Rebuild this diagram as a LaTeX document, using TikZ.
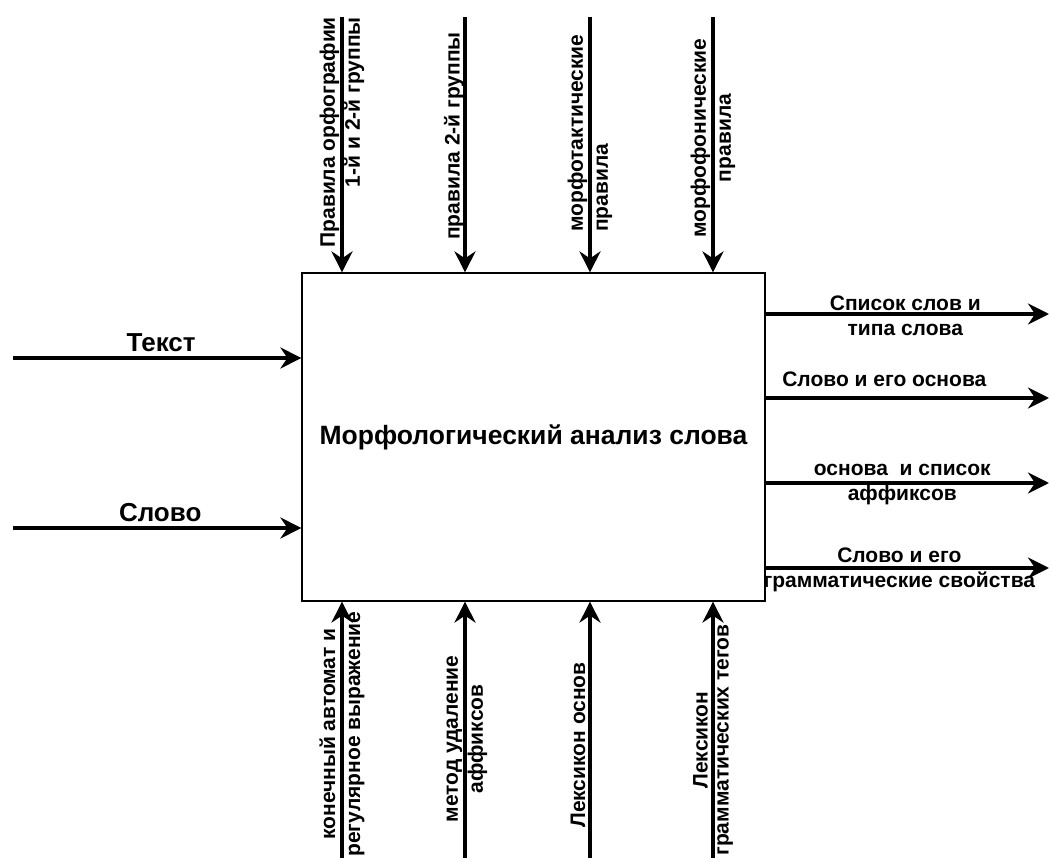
\documentclass[tikz,border=0pt]{standalone}
\usepackage{fontspec}
\setmainfont{Liberation Sans}
\usetikzlibrary{calc,positioning,arrows.meta}

\tikzset{
  flow/.style={line width=4pt, -{Stealth[length=21pt,width=21pt,inset=7pt]}},
  lbl/.style={font=\bfseries\fontsize{21}{25}\selectfont, inner sep=0pt, align=center},
  biglbl/.style={font=\bfseries\fontsize{26}{30}\selectfont, inner sep=0pt},
  vlbl/.style={lbl, rotate=90},
}

\begin{document}
\begin{tikzpicture}[x=1pt, y=-1pt]
  \useasboundingbox (0,0) rectangle (1050,858);
  % function box
  \node[draw, line width=1.2pt, fill=white, minimum width=463pt, minimum height=328pt,
        inner sep=0pt, font=\bfseries\fontsize{26.5}{30}\selectfont] (fn) at (533.5,437)
        {Морфологический анализ слова};

  % inputs
  \coordinate (in1) at (13,358);
  \coordinate (in2) at (13,528);
  \draw[flow] (in1) -- (in1 -| fn.west) node[biglbl, midway, above=4pt, xshift=4pt] (tin1) {Текст};
  \draw[flow] (in2) -- (in2 -| fn.west) node[biglbl, midway, above=4pt, xshift=3pt] (tin2) {Слово};

  % outputs
  \coordinate (out1) at (1049,314);
  \coordinate (out2) at (1049,398);
  \coordinate (out3) at (1049,483);
  \coordinate (out4) at (1049,568);
  \draw[flow] (out1 -| fn.east) -- (out1) node[lbl, midway, xshift=-2pt, yshift=-2pt] (tout1) {Список слов и\\типа слова};
  \draw[flow] (out2 -| fn.east) -- (out2) node[lbl, midway, above=9pt, xshift=-23pt] (tout2) {Слово и его основа};
  \draw[flow] (out3 -| fn.east) -- (out3) node[lbl, midway, xshift=-5pt, yshift=-2pt] (tout3) {основа\ \ и список\\аффиксов};
  \draw[flow] (out4 -| fn.east) -- (out4) node[lbl, midway, xshift=-8pt, yshift=-2pt] (tout4) {Слово и его\\грамматические свойства};

  % controls
  \coordinate (ct1) at (342,17);
  \coordinate (ct2) at (465,17);
  \coordinate (ct3) at (590,17);
  \coordinate (ct4) at (713,17);
  \foreach \c in {ct1,ct2,ct3,ct4}
    \draw[flow] (\c) -- (\c |- fn.north);
  \node[vlbl, anchor=east, align=right] (tct1) at (ct1) {Правила орфографии\\1-й и 2-й группы};
  \node[vlbl, anchor=east] (tct2) at ($(ct2)+(-11,15)$) {правила 2-й группы};
  \node[vlbl, anchor=west, align=left] (tct3) at ($(ct3)+(0,215)$) {морфотактические\\правила};
  \node[vlbl] (tct4) at ($(ct4)+(0,121)$) {морфофонические\\правила};

  % mechanisms
  \coordinate (mc1) at (342,858);
  \coordinate (mc2) at (465,858);
  \coordinate (mc3) at (590,858);
  \coordinate (mc4) at (713,858);
  \foreach \m in {mc1,mc2,mc3,mc4}
    \draw[flow] (\m) -- (\m |- fn.south);
  \node[vlbl] (tmc1) at ($(mc1)+(0,-124)$) {конечный автомат и\\регулярное выражение};
  \node[vlbl] (tmc2) at ($(mc2)+(2,-119)$) {метод удаление\\аффиксов};
  \node[vlbl] (tmc3) at ($(mc3)+(-12,-113)$) {Лексикон основ};
  \node[vlbl, font=\bfseries\fontsize{21}{21}\selectfont] (tmc4) at ($(mc4)+(0,-118)$) {Лексикон\\грамматических тегов};
\end{tikzpicture}
\end{document}
